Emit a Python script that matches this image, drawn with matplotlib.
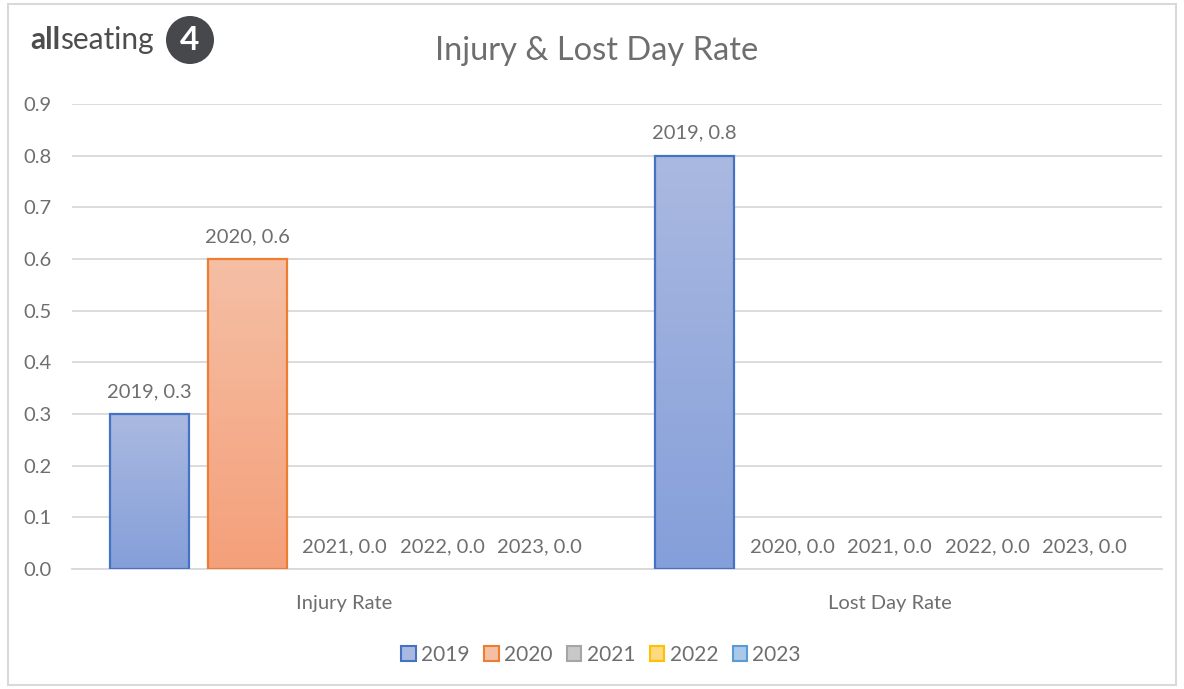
import matplotlib
matplotlib.use("Agg")
import matplotlib.pyplot as plt
import numpy as np
from matplotlib.patches import Rectangle, Ellipse, Patch
from matplotlib.colors import to_rgb

categories = ["Injury Rate", "Lost Day Rate"]
years = ["2019", "2020", "2021", "2022", "2023"]
values = {
    "2019": [0.3, 0.8],
    "2020": [0.6, 0.0],
    "2021": [0.0, 0.0],
    "2022": [0.0, 0.0],
    "2023": [0.0, 0.0],
}
yticks = [0.0, 0.1, 0.2, 0.3, 0.4, 0.5, 0.6, 0.7, 0.8, 0.9]

edge_colors = ["#4472C4", "#ED7D31", "#A5A5A5", "#FFC000", "#5B9BD5"]
top_colors = ["#AAB9E0", "#F5BFA5", "#C8C8C8", "#FFD97F", "#A9C8EA"]
bot_colors = ["#859FDA", "#F4A07A", "#ADADAD", "#FFC94A", "#88B3E3"]

plt.rcParams['font.family'] = ['Lato', 'DejaVu Sans']
TXT = "#6E6E6E"
FS = 14.5

fig = plt.figure(figsize=(11.84, 6.89), dpi=100)
ax = fig.add_axes([72/1184, 1-569/689, 1090/1184, 465/689])

x = np.arange(len(categories))
bw = 79/545
step = 97.5/545

def grad_bar(ax, x0, w, h, c_top, c_bot, edge):
    if h <= 0:
        return
    t = np.array(to_rgb(c_top)); b = np.array(to_rgb(c_bot))
    n = 100
    fr = np.linspace(1, 0, n)[:, None]
    img = (t[None, :] * fr + b[None, :] * (1 - fr))[:, None, :]
    im = ax.imshow(img, extent=[x0, x0 + w, 0, h], aspect='auto', zorder=2, interpolation='bilinear')
    r = Rectangle((x0, 0), w, h, facecolor='none', edgecolor=edge, linewidth=1.6, zorder=3)
    ax.add_patch(r)
    im.set_clip_path(r)

for i, yr in enumerate(years):
    for j, cat in enumerate(categories):
        v = values[yr][j]
        xc = x[j] + (i - 2) * step
        grad_bar(ax, xc - bw/2, bw, v, top_colors[i], bot_colors[i], edge_colors[i])
        ax.text(xc, v + 0.027, f"{yr}, {v:.1f}", ha='center', va='bottom', fontsize=FS, color=TXT, zorder=4)

ax.set_xlim(-0.5, 1.5)
ax.set_ylim(0, 0.9)
ax.set_yticks(yticks)
ax.set_yticklabels([f"{t:.1f}" for t in yticks])
ax.set_xticks(x)
ax.set_xticklabels(categories)
ax.tick_params(axis='both', length=0, labelsize=FS, colors=TXT)
ax.tick_params(axis='y', pad=15)
ax.tick_params(axis='x', pad=19)
ax.grid(axis='y', color='#D9D9D9', linewidth=1.3, zorder=0)
ax.set_axisbelow(True)
for s in ['top', 'right', 'left']:
    ax.spines[s].set_visible(False)
ax.spines['bottom'].set_color('#D9D9D9')
ax.spines['bottom'].set_linewidth(1.3)

fig.text(597/1184, 1-51/689, "Injury & Lost Day Rate", ha='center', va='center', fontsize=23.5, color=TXT)

# legend
handles = [Patch(facecolor=top_colors[i], edgecolor=edge_colors[i], linewidth=1.5) for i in range(5)]
leg = fig.legend(handles, years, loc='center', bbox_to_anchor=(601/1184, 1-655/689), ncol=5,
                 frameon=False, fontsize=15, handlelength=0.7, handleheight=0.7, handletextpad=0.25,
                 columnspacing=0.7, labelcolor=TXT)

# logo
fig.text(30/1184, 1-40/689, "all", fontsize=21.5, fontweight='bold', color='#4D4D4D', va='center', ha='left')
fig.text(60/1184, 1-40/689, "seating", fontsize=21.5, color='#4D4D4D', va='center', ha='left')
circ = Ellipse((190/1184, 1-40/689), 48/1184, 48/689, transform=fig.transFigure, facecolor='#47484C', edgecolor='none')
fig.patches.append(circ)
fig.text(190/1184, 1-41/689, "4", fontsize=24, fontweight='bold', color='white', ha='center', va='center')

# outer border
fig.patches.append(Rectangle((8/1184, 4/689), 1168/1184, 681/689, transform=fig.transFigure,
                             fill=False, edgecolor='#D9D9D9', linewidth=1.5))

fig.savefig("out.png", dpi=100)
